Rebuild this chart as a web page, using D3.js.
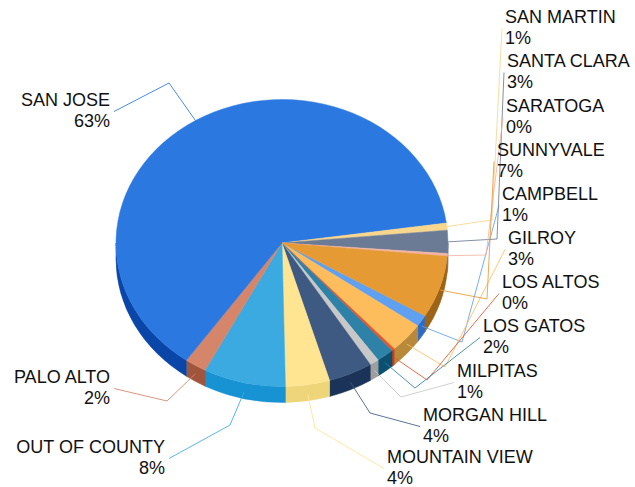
<!DOCTYPE html>
<html>
<head>
<meta charset="utf-8">
<script src="https://cdn.jsdelivr.net/npm/d3@7"></script>
<style>
  body { margin: 0; background: #fff; }
  text { font-family: 'Liberation Sans', Arial, sans-serif; }
</style>
</head>
<body>
<div id="chart"></div>
<script>
const width = 635
const height = 487

// slices, alphabetical, in the order they go round the pie
const cities = ['CAMPBELL', 'GILROY', 'LOS ALTOS', 'LOS GATOS', 'MILPITAS', 'MORGAN HILL',
  'MOUNTAIN VIEW', 'OUT OF COUNTY', 'PALO ALTO', 'SAN JOSE', 'SAN MARTIN', 'SANTA CLARA',
  'SARATOGA', 'SUNNYVALE']
const shares = [1.3, 3.4, 0.3, 1.7, 0.9, 4.3, 4.3, 8.0, 2.1, 63.0, 0.8, 2.6, 0.3, 7.0]

const topColors = ['#5fa0f0', '#fdbd5d', '#e8552a', '#2e82a8', '#c8c8c8', '#3f5a82',
  '#ffe491', '#3aaae0', '#d4856a', '#2b78e0', '#f8d68e', '#6b7b95', '#f2b5a5', '#e69a33']
const sideColors = ['#2c6cc8', '#b8893a', '#c0401a', '#0b5070', '#9e9e9e', '#1b3358',
  '#eed57a', '#1792d3', '#a0553d', '#0a46a8', '#c9a860', '#3d4a60', '#c08878', '#9c6418']

// label placement: text anchor, first baseline, elbow of the leader line
const labelLayout = {
  'CAMPBELL': { x: 502, y: 200, side: 'right', elbow: [462, 342] },
  'GILROY': { x: 508, y: 244, side: 'right', elbow: [445, 367] },
  'LOS ALTOS': { x: 502, y: 288, side: 'right', elbow: [427, 380] },
  'LOS GATOS': { x: 483, y: 332, side: 'right', elbow: [415, 388] },
  'MILPITAS': { x: 457, y: 377, side: 'right', elbow: [401, 397] },
  'MORGAN HILL': { x: 423, y: 421, side: 'right', elbow: [370, 413] },
  'MOUNTAIN VIEW': { x: 387, y: 463, side: 'right', elbow: [315, 428] },
  'OUT OF COUNTY': { x: 165, y: 453, side: 'left', elbow: [230, 425] },
  'PALO ALTO': { x: 110, y: 383, side: 'left', elbow: [167, 401] },
  'SAN JOSE': { x: 110, y: 106, side: 'left', elbow: [169, 83] },
  'SAN MARTIN': { x: 505, y: 23, side: 'right', elbow: [492, 220] },
  'SANTA CLARA': { x: 507, y: 67, side: 'right', elbow: [497, 239] },
  'SARATOGA': { x: 506, y: 112, side: 'right', elbow: [486, 255] },
  'SUNNYVALE': { x: 497, y: 156, side: 'right', elbow: [487, 299] }
}

const cx = 282
const cy = 243
const rx = 166
const ry = 143.5
const depth = 16
const firstAngle = 120.5 * Math.PI / 180

const data = cities.map((name, i) => ({ name: name, value: shares[i], top: topColors[i], side: sideColors[i] }))
const total = d3.sum(shares)

const pie = d3
  .pie()
  .sort(null)
  .value(d => d.value)
  .startAngle(firstAngle)
  .endAngle(firstAngle + 2 * Math.PI)

const slices = pie(data)

// point on the top ellipse for a d3 angle (clockwise from 12 o'clock)
function pt(a, dy) {
  return [cx + rx * Math.sin(a), cy - ry * Math.cos(a) + (dy || 0)]
}

const svg = d3
  .select('#chart')
  .append('svg')
  .attr('width', width)
  .attr('height', height)

// outer walls: only the front half (pi/2 .. 3pi/2) can be seen
const walls = []
slices.forEach(s => {
  [0, 2 * Math.PI].forEach(k => {
    const a = Math.max(s.startAngle, Math.PI / 2 + k)
    const b = Math.min(s.endAngle, 3 * Math.PI / 2 + k)
    if (b > a) walls.push({ a: a, b: b, color: s.data.side })
  })
})

svg
  .append('g')
  .selectAll('path')
  .data(walls)
  .enter()
  .append('path')
  .attr('d', w => {
    const p1 = pt(w.a)
    const p2 = pt(w.b)
    const p3 = pt(w.b, depth)
    const p4 = pt(w.a, depth)
    return 'M' + p1 + 'A' + rx + ',' + ry + ' 0 0 1 ' + p2 +
      'L' + p3 + 'A' + rx + ',' + ry + ' 0 0 0 ' + p4 + 'Z'
  })
  .attr('fill', w => w.color)
  .attr('stroke', w => w.color)
  .attr('stroke-width', 0.5)

// top face: a circular d3 arc squashed into the ellipse
const arc = d3.arc().innerRadius(0).outerRadius(rx)

svg
  .append('g')
  .attr('transform', 'translate(' + cx + ',' + cy + ') scale(1,' + (ry / rx) + ')')
  .selectAll('path')
  .data(slices)
  .enter()
  .append('path')
  .attr('d', arc)
  .attr('fill', d => d.data.top)
  .attr('stroke', d => d.data.top)
  .attr('stroke-width', 0.5)

// leader lines
const lineHeight = 21

svg
  .append('g')
  .selectAll('polyline')
  .data(slices)
  .enter()
  .append('polyline')
  .attr('points', d => {
    const mid = (d.startAngle + d.endAngle) / 2
    const drop = depth * 0.6 * Math.max(0, -Math.cos(mid))
    const start = pt(mid, drop)
    const lay = labelLayout[d.data.name]
    const end = [lay.side === 'right' ? lay.x - 3 : lay.x + 4, lay.y + 5.5]
    return [start, lay.elbow, end].map(p => p.join(',')).join(' ')
  })
  .attr('fill', 'none')
  .attr('stroke', d => d.data.top)
  .attr('stroke-width', 1)
  .attr('opacity', 0.85)

// labels
const labels = svg
  .append('g')
  .selectAll('text')
  .data(slices)
  .enter()
  .append('text')
  .attr('font-size', '18px')
  .attr('fill', '#111')
  .attr('text-anchor', d => labelLayout[d.data.name].side === 'right' ? 'start' : 'end')

labels
  .append('tspan')
  .attr('x', d => labelLayout[d.data.name].x)
  .attr('y', d => labelLayout[d.data.name].y)
  .text(d => d.data.name)

labels
  .append('tspan')
  .attr('x', d => labelLayout[d.data.name].x)
  .attr('y', d => labelLayout[d.data.name].y + lineHeight)
  .text(d => Math.round(d.data.value / total * 100) + '%')
</script>
</body>
</html>
